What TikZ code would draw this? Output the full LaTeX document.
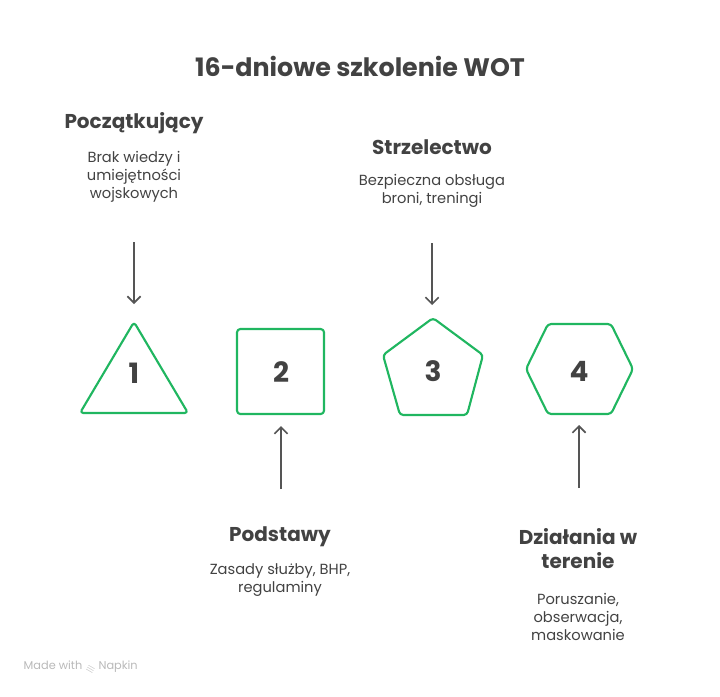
\documentclass[tikz,border=0pt]{standalone}
\usepackage{fontspec}
\setmainfont{Poppins}
\usetikzlibrary{arrows.meta}
\definecolor{shapegreen}{RGB}{32,182,96}
\definecolor{textgray}{RGB}{66,66,66}
\definecolor{arrowgray}{RGB}{85,85,85}
\definecolor{markgray}{RGB}{185,185,185}
\tikzset{
  stage/.style={draw=shapegreen,line width=1.6pt,rounded corners=2.5pt,line join=round},
  num/.style={font=\fontsize{21}{24}\selectfont\bfseries,text=textgray},
  head/.style={font=\fontsize{15}{18}\selectfont\bfseries,text=textgray,align=center},
  desc/.style={font=\fontsize{11}{13.5}\selectfont,text=textgray,align=center},
  link/.style={draw=arrowgray,line width=1.2pt,-{Straight Barb[length=5pt,width=10pt]}}
}
\begin{document}
\begin{tikzpicture}[x=0.75pt,y=-0.75pt]
       \useasboundingbox (0,0) rectangle (720,696);
       % title
       \node[font=\fontsize{19}{22}\selectfont\bfseries,text=textgray] (title) at (360,66) {16-dniowe szkolenie WOT};
       % shapes
       \draw[stage] (134,322) -- (188,413) -- (80,413) -- cycle;
       \draw[stage] (237,329) rectangle (324,414);
       \draw[stage] (433,318) -- (483,355) -- (467,415) -- (400,415) -- (383,355) -- cycle;
       \draw[stage] (526,369) -- (548,324) -- (611,324) -- (633,369) -- (611,414) -- (548,414) -- cycle;
       \node[num] (n1) at (134,373) {1};
       \node[num] (n2) at (281,372) {2};
       \node[num] (n3) at (433,371) {3};
       \node[num] (n4) at (579,371) {4};
       % labels
       \node[head] (h1) at (134,123) {Początkujący};
       \node[desc] (d1) at (134,177) {Brak wiedzy i\\umiejętności\\wojskowych};
       \node[head] (h3) at (432,147) {Strzelectwo};
       \node[desc] (d3) at (432,191) {Bezpieczna obsługa\\broni, treningi};
       \node[head] (h2) at (280,537) {Podstawy};
       \node[desc] (d2) at (280,580) {Zasady służby, BHP,\\regulaminy};
       \node[head] (h4) at (578,549) {Działania w\\terenie};
       \node[desc] (d4) at (578,617) {Poruszanie,\\obserwacja,\\maskowanie};
       % arrows
       \coordinate (a1) at (134,242);
       \coordinate (b1) at (134,304);
       \coordinate (a2) at (281,489);
       \coordinate (b2) at (281,426);
       \coordinate (a3) at (432,243);
       \coordinate (b3) at (432,305);
       \coordinate (a4) at (579,488);
       \coordinate (b4) at (579,425);
       \draw[link] (a1) -- (b1);
       \draw[link] (a2) -- (b2);
       \draw[link] (a3) -- (b3);
       \draw[link] (a4) -- (b4);
       % footer
       \node[font=\fontsize{8.5}{10}\selectfont,text=markgray,anchor=west] (made) at (19,667) {Made with \rotatebox{-30}{$\equiv$}\ Napkin};
\end{tikzpicture}
\end{document}
